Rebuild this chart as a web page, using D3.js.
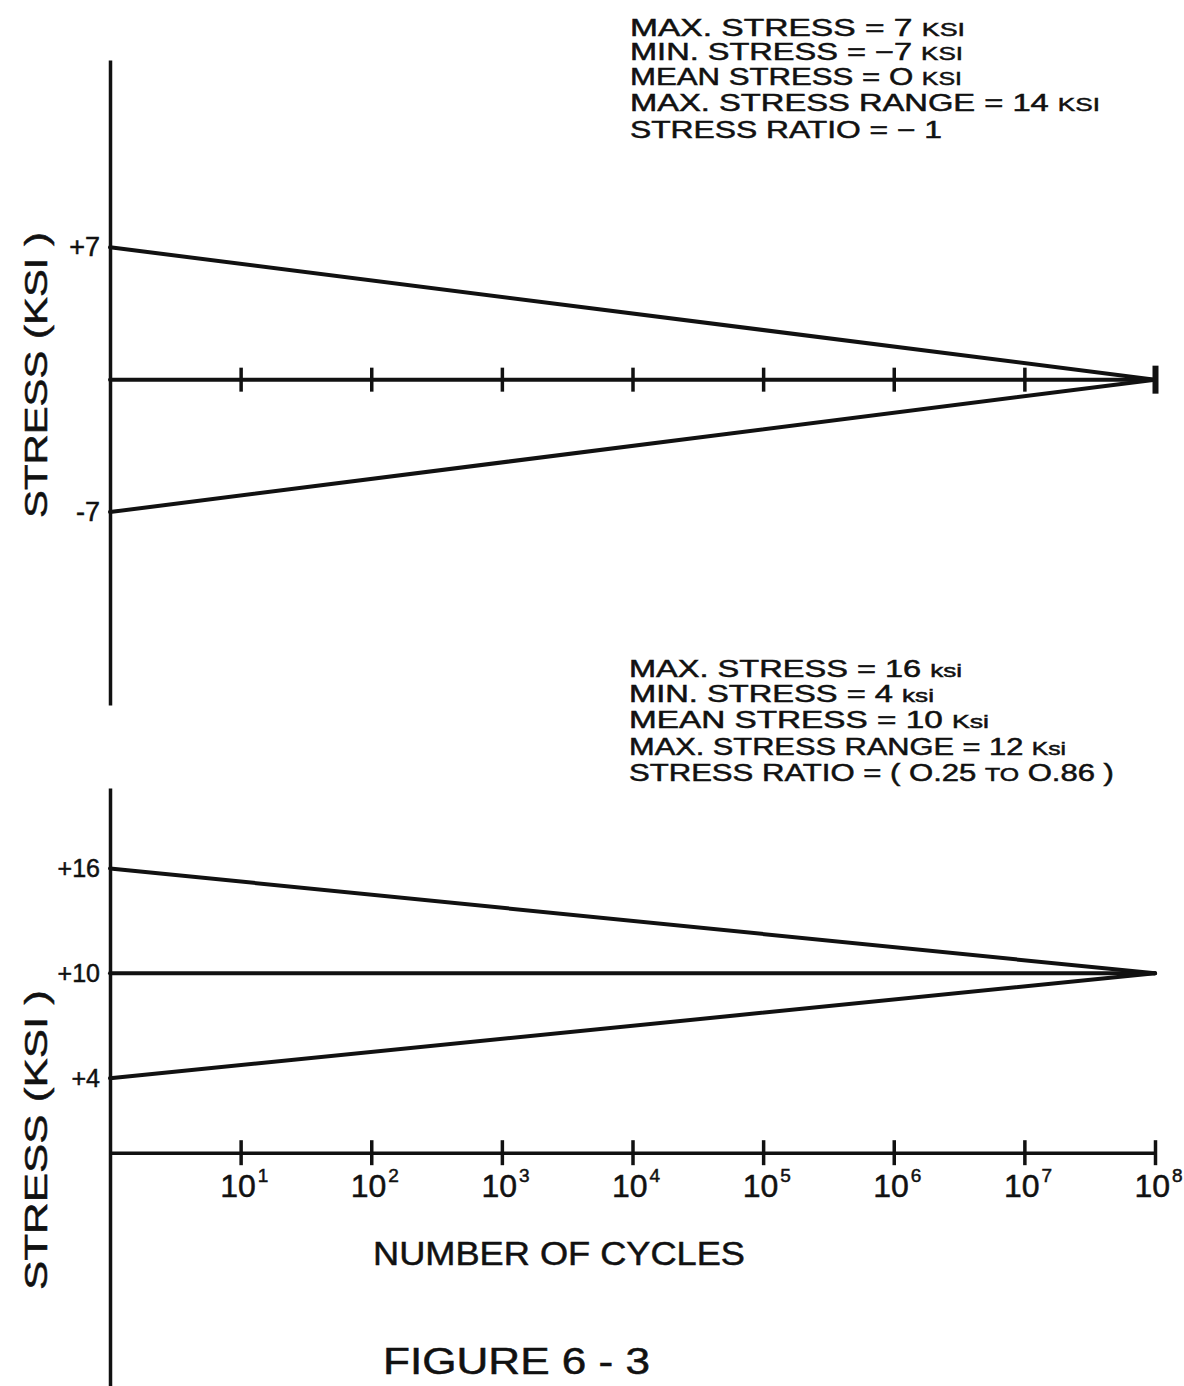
<!DOCTYPE html>
<html>
<head>
<meta charset="utf-8">
<script src="https://cdn.jsdelivr.net/npm/d3@7/dist/d3.min.js"></script>
<style>
  html, body { margin: 0; padding: 0; background: #fff; }
  svg { display: block; }
  text { font-family: "Liberation Sans", "DejaVu Sans", sans-serif; fill: #111; stroke: #111; stroke-width: 0.5px; }
</style>
</head>
<body>
<svg id="chart" width="1184" height="1386"></svg>
<script>
// ---------------- data ----------------
const cycleTicks = [1e1, 1e2, 1e3, 1e4, 1e5, 1e6, 1e7, 1e8];
const cycleExponents = ["1", "2", "3", "4", "5", "6", "7", "8"];
const cycleStart = 1;      // N at the y-axis
const cycleEnd = 1e8;      // N where lines converge

// panel A (fully reversed)
const aSeries = ["max", "mean", "min"];
const aStart = [7, 0, -7];
const aEnd = [0, 0, 0];
const aTickValues = [7, -7];
const aTickLabels = ["+7", "-7"];

// panel B (tension-tension)
const bSeries = ["max", "mean", "min"];
const bStart = [16, 10, 4];
const bEnd = [10, 10, 10];
const bTickValues = [16, 10, 4];
const bTickLabels = ["+16", "+10", "+4"];

const aNotes = [
  ["MAX. STRESS = 7 ", "KSI"],
  ["MIN. STRESS = −7 ", "KSI"],
  ["MEAN STRESS = O ", "KSI"],
  ["MAX. STRESS RANGE = 14 ", "KSI"],
  ["STRESS RATIO = − 1", ""]
];
const bNotes = [
  ["MAX. STRESS =  16 ", "ksi"],
  ["MIN. STRESS =  4 ", "ksi"],
  ["MEAN STRESS = 10 ", "Ksi"],
  ["MAX. STRESS RANGE = 12 ", "Ksi"],
  ["STRESS RATIO = ( O.25 ", "TO", " O.86 )"]
];
const yTitle = "STRESS (KSI )";
const xTitle = "NUMBER OF CYCLES";
const figTitle = "FIGURE  6 - 3";

// ---------------- layout ----------------
const svg = d3.select("#chart");
const x = d3.scaleLog().domain([cycleStart, cycleEnd]).range([110, 1155]);
const yA = d3.scaleLinear().domain([-17.2, 16.9]).range([705, 60]);
const yB = d3.scaleLinear().domain([-13.6, 20.6]).range([1386, 788]);

const lineW = 4;
const axisW = 3.5;

function drawPanel(y, starts, ends, tickVals, tickLabs, labelSize) {
  const ax = d3.axisLeft(y).tickValues(tickVals).tickSize(0).tickPadding(10)
    .tickFormat((d, i) => tickLabs[i]);
  const g = svg.append("g").attr("transform", `translate(${x(cycleStart)},0)`).call(ax);
  g.select(".domain").attr("stroke", "#111").attr("stroke-width", axisW);
  g.selectAll(".tick text").attr("font-size", labelSize).attr("fill", "#111")
    .style("font-family", "'Liberation Sans', sans-serif");
  const line = d3.line().x(d => x(d[0])).y(d => y(d[1]));
  starts.forEach((s, i) => {
    svg.append("path")
      .attr("d", line([[cycleStart, s], [cycleEnd, ends[i]]]))
      .attr("fill", "none").attr("stroke", "#111")
      .attr("stroke-width", lineW).attr("stroke-linecap", "round");
  });
}

drawPanel(yA, aStart, aEnd, aTickValues, aTickLabels, 27);
drawPanel(yB, bStart, bEnd, bTickValues, bTickLabels, 25);

// top panel: ticks along mean line
const axTop = d3.axisBottom(x).tickValues(cycleTicks).tickFormat("").tickSizeOuter(0);
const gTop = svg.append("g").attr("transform", `translate(0,${yA(0)})`).call(axTop);
gTop.select(".domain").remove();
gTop.selectAll(".tick line").attr("y1", -12).attr("y2", 12)
  .attr("stroke", "#111").attr("stroke-width", 3.5);
gTop.selectAll(".tick line").filter(d => d === 1e8)
  .attr("y1", -14).attr("y2", 14).attr("stroke-width", 6);

// bottom panel: x axis at stress 0
const axBot = d3.axisBottom(x).tickValues(cycleTicks).tickSizeOuter(0).tickFormat("");
const gBot = svg.append("g").attr("transform", `translate(0,${yB(0) + 5})`).call(axBot);
gBot.select(".domain").attr("stroke", "#111").attr("stroke-width", axisW)
  .attr("d", `M${x(cycleStart)},0H${x(cycleEnd)}`);
gBot.selectAll(".tick line").attr("y1", -13).attr("y2", 12)
  .attr("stroke", "#111").attr("stroke-width", 3.5);
gBot.selectAll(".tick").each(function (d, i) {
  const t = d3.select(this).append("text")
    .attr("x", -21).attr("y", 44)
    .attr("text-anchor", "start")
    .attr("font-size", 32)
    .attr("fill", "#111");
  t.append("tspan").text("10");
  t.append("tspan").attr("font-size", 19).attr("dy", -15).attr("dx", 2).text(cycleExponents[i]);
});

// annotations
function notes(lines, x0, baselines, widths, size) {
  lines.forEach((parts, i) => {
    const t = svg.append("text").attr("x", x0).attr("y", baselines[i])
      .attr("font-size", size)
      .attr("textLength", widths[i]).attr("lengthAdjust", "spacingAndGlyphs");
    parts.forEach((p, j) => {
      const small = (j % 2 === 1);
      t.append("tspan").attr("font-size", small ? size * 0.8 : size).text(p);
    });
  });
}
notes(aNotes, 630, [36, 60, 85, 111, 138], [335, 333, 332, 470, 312], 23.5);
notes(bNotes, 629, [677, 702, 728, 755, 781], [333, 305, 360, 437, 485], 23.5);

// axis titles
function yTitleAt(cx, cy, len) {
  svg.append("text")
    .attr("transform", `translate(${cx},${cy}) rotate(-90)`)
    .attr("text-anchor", "middle")
    .attr("font-size", 31)
    .attr("textLength", len).attr("lengthAdjust", "spacingAndGlyphs")
    .text(yTitle);
}
yTitleAt(47, 375, 286);
yTitleAt(47, 1140, 300);

svg.append("text").attr("x", 373).attr("y", 1265)
  .attr("font-size", 33).attr("textLength", 372).attr("lengthAdjust", "spacingAndGlyphs")
  .text(xTitle);

svg.append("text").attr("x", 383).attr("y", 1374)
  .attr("font-size", 36).attr("textLength", 267).attr("lengthAdjust", "spacingAndGlyphs")
  .text(figTitle);
</script>
</body>
</html>
